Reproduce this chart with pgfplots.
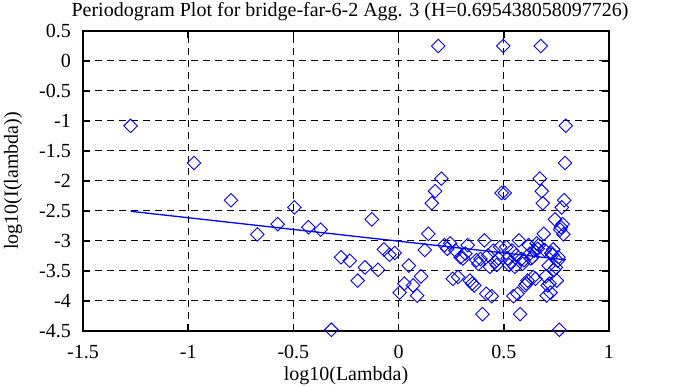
\documentclass[border=0pt]{standalone}
\usepackage{pgfplots}
\pgfplotsset{compat=1.18}
\usepackage{pgfplotstable}
\usepackage{fontspec}
\setmainfont{Liberation Serif}
\definecolor{mblue}{RGB}{0,0,255}
\pgfplotstableread{
x y
-1.2737 -1.08
-0.9727 -1.70
-0.7966 -2.32
-0.6716 -2.89
-0.5747 -2.72
-0.4955 -2.44
-0.4286 -2.77
-0.3706 -2.81
-0.3195 -4.48
-0.2737 -3.27
-0.2323 -3.33
-0.1945 -3.66
-0.1598 -3.44
-0.1276 -2.64
-0.0976 -3.48
-0.0696 -3.14
-0.0433 -3.23
-0.0184 -3.20
0.0051 -3.86
0.0273 -3.71
0.0485 -3.41
0.0687 -3.74
0.0880 -3.91
0.1065 -3.59
0.1242 -3.15
0.1413 -2.88
0.1577 -2.37
0.1735 -2.17
0.1887 0.25
0.2034 -1.96
0.2177 -3.07
0.2314 -3.13
0.2448 -3.04
0.2578 -3.63
0.2704 -3.16
0.2826 -3.60
0.2945 -3.27
0.3061 -3.29
0.3174 -3.21
0.3284 -3.07
0.3391 -3.66
0.3495 -3.71
0.3598 -3.74
0.3698 -3.32
0.3795 -3.38
0.3890 -3.30
0.3984 -4.22
0.4075 -2.99
0.4165 -3.88
0.4253 -3.24
0.4339 -3.43
0.4423 -3.92
0.4506 -3.16
0.4587 -3.35
0.4667 -3.40
0.4745 -3.29
0.4822 -3.10
0.4897 -2.20
0.4972 0.25
0.5045 -2.20
0.5116 -3.10
0.5187 -3.29
0.5256 -3.40
0.5325 -3.35
0.5392 -3.16
0.5458 -3.92
0.5524 -3.43
0.5588 -3.24
0.5652 -3.88
0.5714 -2.99
0.5776 -4.22
0.5836 -3.30
0.5896 -3.38
0.5955 -3.32
0.6014 -3.74
0.6071 -3.71
0.6128 -3.66
0.6184 -3.07
0.6239 -3.21
0.6294 -3.29
0.6348 -3.27
0.6401 -3.60
0.6454 -3.16
0.6506 -3.63
0.6557 -3.04
0.6608 -3.13
0.6658 -3.07
0.6708 -1.96
0.6757 0.25
0.6805 -2.17
0.6853 -2.37
0.6901 -2.88
0.6948 -3.15
0.6994 -3.59
0.7040 -3.91
0.7086 -3.74
0.7131 -3.41
0.7175 -3.71
0.7219 -3.86
0.7263 -3.20
0.7306 -3.23
0.7349 -3.14
0.7391 -3.48
0.7433 -2.64
0.7475 -3.44
0.7516 -3.66
0.7557 -3.33
0.7597 -3.27
0.7637 -4.48
0.7677 -2.81
0.7716 -2.77
0.7755 -2.44
0.7794 -2.72
0.7832 -2.89
0.7870 -2.32
0.7908 -1.70
0.7945 -1.08
}\periodo
\pgfplotstableread{
x y
-1.2737 -2.505
0.7945 -3.314
}\fitline
\newcommand{\chartfont}{\fontsize{20}{23}\selectfont}
\begin{document}
\begin{tikzpicture}
\useasboundingbox (-83pt,-56pt) rectangle (590pt,331pt);
\begin{axis}[
  at={(0pt,0pt)}, anchor=south west,
  scale only axis,
  width=526pt, height=300pt,
  xmin=-1.5, xmax=1, ymin=-4.5, ymax=0.5,
  xtick={-1.5,-1,-0.5,0,0.5,1},
  ytick={-4.5,-4,-3.5,-3,-2.5,-2,-1.5,-1,-0.5,0,0.5},
  /pgf/number format/assume math mode=true,
  /pgf/number format/fixed,
  tick align=inside,
  major tick length=7pt,
  every tick/.style={black, line width=1.6pt},
  axis line style={black, line width=2pt},
  grid=major,
  major grid style={black, line width=1pt, dash pattern=on 7pt off 5pt},
  tick label style={font=\chartfont},
  xticklabel style={anchor=base, inner sep=0pt, yshift=-28pt},
  yticklabel style={anchor=east, inner sep=0pt, xshift=-12pt},
  title={Periodogram Plot for bridge-far-6-2 Agg. 3 (H=0.695438058097726)},
  title style={font=\chartfont, at={(axis description cs:0.5,1)}, anchor=base, inner sep=0pt, yshift=8pt, xshift=4pt},
  xlabel={log10(Lambda)},
  xlabel style={font=\chartfont, at={(axis description cs:0.5,0)}, anchor=base, inner sep=0pt, yshift=-50pt},
  ylabel={log10(I(lambda))},
  ylabel style={font=\chartfont, at={(axis description cs:-0.1236,0.5)}, anchor=base, inner sep=0pt},
  clip=false,
]
\addplot[only marks, mark=square, mark size=4.8pt,
  mark options={rotate=45, draw=mblue, fill=none, line width=0.9pt}]
  table[x=x, y=y] {\periodo};
\addplot[mblue, line width=1.3pt, no marks] table[x=x, y=y] {\fitline};
\end{axis}
\end{tikzpicture}
\end{document}
